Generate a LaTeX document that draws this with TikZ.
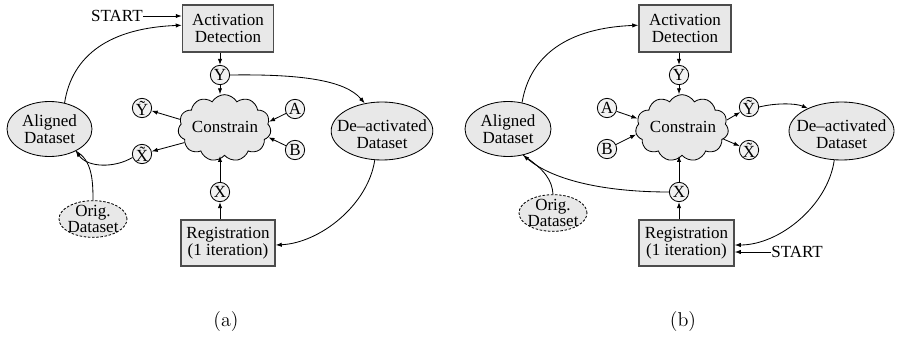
\documentclass[tikz,border=0pt]{standalone}
\usepackage{fontspec}
\setmainfont{Liberation Serif}
\newfontfamily\capfont{lmroman12-regular.otf}
\usetikzlibrary{arrows.meta,shapes.geometric,shapes.symbols,calc}
\begin{document}
\begin{tikzpicture}[x=0.6pt,y=-0.6pt,
  every node/.style={font=\fontsize{10.2pt}{10pt}\selectfont},
  lbl/.style={inner sep=0pt, align=center},
  boxnd/.style={draw=black!70, line width=0.9pt, fill=gray!18, inner sep=0pt, align=center},
  ell/.style={ellipse, draw, line width=0.5pt, fill=gray!18, inner sep=0pt},
  origell/.style={ell, dash pattern=on 1.5pt off 1pt},
  var/.style={circle, draw, line width=0.5pt, fill=gray!10, inner sep=0pt, minimum size=11.6pt},
  cloudnd/.style={cloud, draw, line width=0.5pt, fill=gray!18, cloud puffs=11, cloud puff arc=120, aspect=1.4, minimum width=55.8pt, minimum height=40pt, inner sep=0pt},
  conn/.style={line width=0.5pt, -{Latex[length=3.6pt,width=2.6pt]}},
  plain/.style={line width=0.5pt},
  orgtxt/.style={lbl, font=\fontsize{10.2pt}{8pt}\selectfont},
  captxt/.style={lbl, font=\capfont\fontsize{12pt}{14pt}\selectfont}
]
\useasboundingbox (0,0) rectangle (898,340);

% ---------------- panel (a)
\node[lbl, anchor=east] (sa) at (143,16) {START};
\node[boxnd, minimum width=54.6pt, minimum height=28.2pt] (act_a) at (228,28.5) {Activation\\Detection};
\node[var] (Y_a) at (220,75) {Y};
\node[cloudnd] (cl_a) at (224.5,128) {};
\node[lbl] (clt_a) at (225,127) {Constrain};
\node[var] (Yt_a) at (142,108) {\~{Y}};
\node[var] (Xt_a) at (142,154) {\~{X}};
\node[var] (A_a) at (295,109) {A};
\node[var] (B_a) at (295,150) {B};
\node[ell, minimum width=51pt, minimum height=33pt] (al_a) at (49.5,129) {};
\node[lbl] (alt_a) at (49.5,129.5) {Aligned\\Dataset};
\node[ell, minimum width=61pt, minimum height=34.8pt] (de_a) at (382,131) {};
\node[lbl] (det_a) at (382,134) {De--activated\\Dataset};
\node[origell, minimum width=40.8pt, minimum height=22pt] (or_a) at (93,219) {};
\node[orgtxt] (ort_a) at (93,219) {Orig.\\Dataset};
\node[var] (X_a) at (220,192) {X};
\node[boxnd, minimum width=56.4pt, minimum height=27.6pt] (reg_a) at (228,243) {Registration\\(1 iteration)};
\node[captxt] (cap_a) at (226,322) {(a)};

\draw[conn] (sa.east) -- (sa.east -| act_a.west);
\draw[conn] (al_a.60) .. controls (72,55) and (110,28) .. (act_a.176);
\draw[conn] (Y_a |- act_a.south) -- (Y_a.north);
\draw[conn] (Y_a.south) -- (Y_a.south |- cl_a.north);
\draw[conn] (Y_a.east) .. controls (300,74) and (345,80) .. (de_a.122);
\draw[conn] (cl_a.169) -- (Yt_a);
\draw[conn] (cl_a.200) -- (Xt_a);
\draw[conn] (A_a) -- (cl_a.8);
\draw[conn] (B_a) -- (cl_a.348);
\draw[conn] (X_a.north) -- (X_a.north |- cl_a.south);
\draw[conn] (X_a |- reg_a.north) -- (X_a.south);
\draw[conn] (Xt_a.200) .. controls (115,168) and (88,168) .. (al_a.-40);
\draw[plain] (or_a.north) .. controls (93,180) and (92,160) .. (al_a.-40);
\draw[conn] (de_a.256) .. controls (368,205) and (320,243) .. ($(reg_a.east)+(0,2)$);

% ---------------- panel (b)
\node[boxnd, minimum width=55.2pt, minimum height=28.2pt] (act_b) at (685,28.5) {Activation\\Detection};
\node[var] (Y_b) at (679,75) {Y};
\node[cloudnd] (cl_b) at (682,128) {};
\node[lbl] (clt_b) at (683,127) {Constrain};
\node[var] (A_b) at (607,108) {A};
\node[var] (B_b) at (607,149) {B};
\node[var] (Yt_b) at (749,107) {\~{Y}};
\node[var] (Xt_b) at (749,150) {\~{X}};
\node[ell, minimum width=51.6pt, minimum height=33pt] (al_b) at (508,129) {};
\node[lbl] (alt_b) at (508,129.5) {Aligned\\Dataset};
\node[ell, minimum width=63pt, minimum height=34.8pt] (de_b) at (841.5,131) {};
\node[lbl] (det_b) at (841.5,134) {De--activated\\Dataset};
\node[origell, minimum width=40.8pt, minimum height=22pt] (or_b) at (553,213) {};
\node[orgtxt] (ort_b) at (553,213) {Orig.\\Dataset};
\node[var] (X_b) at (679,192) {X};
\node[boxnd, minimum width=57pt, minimum height=27.6pt] (reg_b) at (686.5,243) {Registration\\(1 iteration)};
\node[lbl, anchor=west] (sb) at (771,252) {START};
\node[captxt] (cap_b) at (683,322) {(b)};

\draw[conn] (al_b.62) .. controls (530,55) and (568,28) .. (act_b.176);
\draw[conn] (Y_b |- act_b.south) -- (Y_b.north);
\draw[conn] (Y_b.south) -- (Y_b.south |- cl_b.north);
\draw[conn] (A_b) -- (cl_b.168);
\draw[conn] (B_b) -- (cl_b.188);
\draw[conn] (cl_b.10) -- (Yt_b);
\draw[conn] (cl_b.345) -- (Xt_b);
\draw[conn] (Yt_b.east) .. controls (775,103) and (795,103) .. (de_b.146);
\draw[conn] (X_b.north) -- (X_b.north |- cl_b.south);
\draw[conn] (X_b |- reg_b.north) -- (X_b.south);
\draw[conn] (X_b.west) .. controls (610,192) and (555,182) .. (al_b.-60);
\draw[plain] (or_b.north) .. controls (552,180) and (545,170) .. (al_b.-60);
\draw[conn] (de_b.256) .. controls (828,205) and (780,245) .. ($(reg_b.east)+(0,2)$);
\draw[conn] (sb.west) -- (sb.west -| reg_b.east);
\end{tikzpicture}
\end{document}
